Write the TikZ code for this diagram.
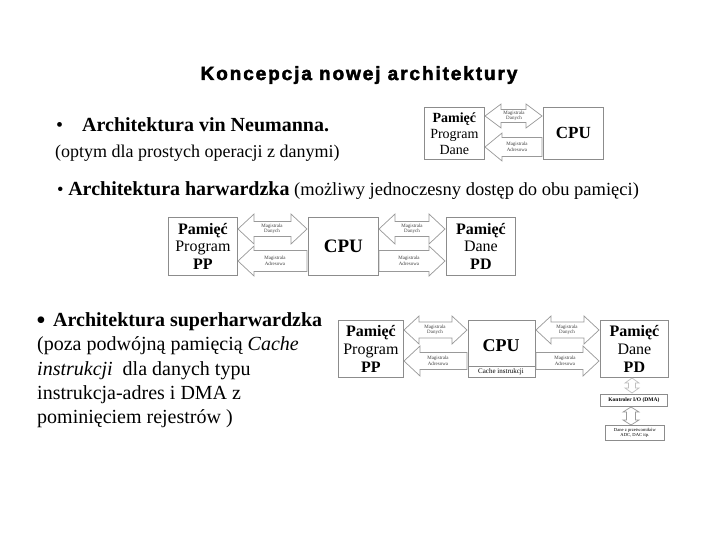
\documentclass[tikz,border=0pt]{standalone}
\usepackage{fontspec}
\setmainfont{Liberation Serif}
\newfontfamily\titlefont[LetterSpace=10, FakeBold=2.5]{Liberation Sans Bold}
\tikzset{
  box/.style={draw=black!45, fill=white, line width=0.8pt, inner sep=0pt, align=center},
  arr/.style={draw=black!40, fill=white, line width=0.7pt},
  lbl/.style={inner sep=0pt, align=center, font=\fontsize{5}{5.6}\selectfont, text=black!75},
  txt/.style={inner sep=0pt, anchor=base west},
}
% horizontal double arrow: x1 x2 yc headhalf shafthalf headlen
\newcommand\hdbl[6]{\draw[arr] (#1,#3) -- ({#1+#6},{#3-#4}) -- ({#1+#6},{#3-#5}) -- ({#2-#6},{#3-#5}) -- ({#2-#6},{#3-#4}) -- (#2,#3) -- ({#2-#6},{#3+#4}) -- ({#2-#6},{#3+#5}) -- ({#1+#6},{#3+#5}) -- ({#1+#6},{#3+#4}) -- cycle;}
% left-pointing arrow: tip x1, tail x2
\newcommand\harl[6]{\draw[arr] (#1,#3) -- ({#1+#6},{#3-#4}) -- ({#1+#6},{#3-#5}) -- (#2,{#3-#5}) -- (#2,{#3+#5}) -- ({#1+#6},{#3+#5}) -- ({#1+#6},{#3+#4}) -- cycle;}
% right-pointing arrow: tail x1, tip x2
\newcommand\harr[6]{\draw[arr] (#2,#3) -- ({#2-#6},{#3-#4}) -- ({#2-#6},{#3-#5}) -- (#1,{#3-#5}) -- (#1,{#3+#5}) -- ({#2-#6},{#3+#5}) -- ({#2-#6},{#3+#4}) -- cycle;}
% vertical double arrow: y1 y2 xc headhalf shafthalf headlen
\newcommand\vdbl[6]{\draw[arr] (#3,#1) -- ({#3+#4},{#1+#6}) -- ({#3+#5},{#1+#6}) -- ({#3+#5},{#2-#6}) -- ({#3+#4},{#2-#6}) -- (#3,#2) -- ({#3-#4},{#2-#6}) -- ({#3-#5},{#2-#6}) -- ({#3-#5},{#1+#6}) -- ({#3-#4},{#1+#6}) -- cycle;}
\begin{document}
\begin{tikzpicture}[x=1pt,y=-1pt]
\useasboundingbox[fill=white] (0,0) rectangle (720,540);

% title
\node[inner sep=0pt, anchor=base, font=\titlefont\fontsize{19}{21}\selectfont] (title) at (359,80) {Koncepcja nowej architektury};

% von Neumann text
\node[txt, font=\fontsize{20}{22}\selectfont] (b1) at (56,132) {\textbullet};
\node[txt, font=\bfseries\fontsize{20}{22}\selectfont] (t1) at (82,132) {Architektura vin Neumanna.};
\node[txt, font=\fontsize{18}{20}\selectfont] (t1b) at (55,158) {(optym dla prostych operacji z danymi)};

% harvard text
\node[txt, font=\fontsize{18.5}{22}\selectfont] (t2) at (57,196) {\textbullet\ \textbf{\fontsize{20}{22}\selectfont Architektura harwardzka} (możliwy jednoczesny dostęp do obu pamięci)};

% super harvard text
\node[txt, font=\fontsize{28}{28}\selectfont] (b3) at (36,329) {\textbullet};
\node[txt, font=\bfseries\fontsize{20}{22}\selectfont] (t3) at (53,326) {Architektura superharwardzka};
\node[txt, font=\fontsize{20}{22}\selectfont] (t3a) at (37,350) {(poza podwójną pamięcią \textit{Cache}};
\node[txt, font=\fontsize{20}{22}\selectfont] (t3b) at (37,375) {\textit{instrukcji}\ \ dla danych typu};
\node[txt, font=\fontsize{20}{22}\selectfont] (t3c) at (37,399) {instrukcja-adres i DMA z};
\node[txt, font=\fontsize{20}{22}\selectfont] (t3d) at (37,423) {pominięciem rejestrów )};

% ---------- diagram 1 ----------
\node[box, anchor=north west, minimum width=60pt, minimum height=52pt, font=\fontsize{14}{16}\selectfont] (m1) at (424,107) {\textbf{Pamięć}\\Program\\Dane};
\node[box, anchor=north west, minimum width=60pt, minimum height=52pt, font=\bfseries\fontsize{17}{18}\selectfont] (c1) at (543,107) {CPU};
\hdbl{485}{542}{116}{12}{6.5}{16}
\node[lbl] (l1a) at (514,116) {Magistrala\\Danych};
\harl{485}{542}{147}{14}{9.5}{17}
\node[lbl] (l1b) at (517,147) {Magistrala\\Adresowa};

% ---------- diagram 2 ----------
\node[box, anchor=north west, minimum width=69pt, minimum height=58pt, font=\fontsize{16}{17.5}\selectfont] (pp2) at (168,217) {\textbf{Pamięć}\\Program\\\textbf{PP}};
\node[box, anchor=north west, minimum width=70pt, minimum height=58pt, font=\bfseries\fontsize{19}{20}\selectfont] (c2) at (308,217) {CPU};
\node[box, anchor=north west, minimum width=69pt, minimum height=58pt, font=\fontsize{16}{17.5}\selectfont] (pd2) at (446,217) {\textbf{Pamięć}\\Dane\\\textbf{PD}};
\hdbl{238}{307}{229}{15}{7.5}{16}
\node[lbl] (l2a) at (272,229) {Magistrala\\Danych};
\harl{238}{307}{261}{15}{10.5}{16}
\node[lbl] (l2b) at (275,261) {Magistrala\\Adresowa};
\hdbl{379}{445}{229}{15}{7.5}{16}
\node[lbl] (l2c) at (412,229) {Magistrala\\Danych};
\harr{379}{445}{261}{15}{10.5}{16}
\node[lbl] (l2d) at (409,261) {Magistrala\\Adresowa};

% ---------- diagram 3 ----------
\node[box, anchor=north west, minimum width=65pt, minimum height=57pt, font=\fontsize{16}{18}\selectfont] (pp3) at (338,320) {\textbf{Pamięć}\\Program\\\textbf{PP}};
\node[box, anchor=north west, minimum width=67pt, minimum height=57pt] (c3) at (468,320) {};
\draw[black!45, line width=0.8pt] (468,366) -- (535,366);
\node[inner sep=0pt, font=\bfseries\fontsize{18}{20}\selectfont] (c3t) at (501,346) {CPU};
\node[inner sep=0pt, font=\fontsize{7}{8}\selectfont] (c3c) at (501,371.5) {Cache instrukcji};
\node[box, anchor=north west, minimum width=68pt, minimum height=57pt, font=\fontsize{16}{18}\selectfont] (pd3) at (600,320) {\textbf{Pamięć}\\Dane\\\textbf{PD}};
\hdbl{404}{467}{330}{14}{8}{15}
\node[lbl] (l3a) at (435,330) {Magistrala\\Danych};
\harl{404}{467}{361}{15}{8.5}{16}
\node[lbl] (l3b) at (438,361) {Magistrala\\Adresowa};
\hdbl{536}{599}{330}{14}{8}{15}
\node[lbl] (l3c) at (567,330) {Magistrala\\Danych};
\harr{536}{599}{361}{15}{8.5}{16}
\node[lbl] (l3d) at (565,361) {Magistrala\\Adresowa};

% DMA
\begin{scope}[arr/.append style={draw=black!25}]
\vdbl{378}{393}{632}{7}{3.5}{5}
\end{scope}
\node[box, anchor=north west, minimum width=67pt, minimum height=12pt, font=\bfseries\fontsize{5.5}{6}\selectfont] (kio) at (600,394) {Kontroler I/O (DMA)};
\vdbl{407}{425}{631}{8}{4.5}{5}
\node[box, anchor=north west, minimum width=59pt, minimum height=15pt, font=\fontsize{4.6}{5.4}\selectfont] (dane) at (605,425) {Dane z przetworników\\ADC, DAC itp.};
\end{tikzpicture}
\end{document}
